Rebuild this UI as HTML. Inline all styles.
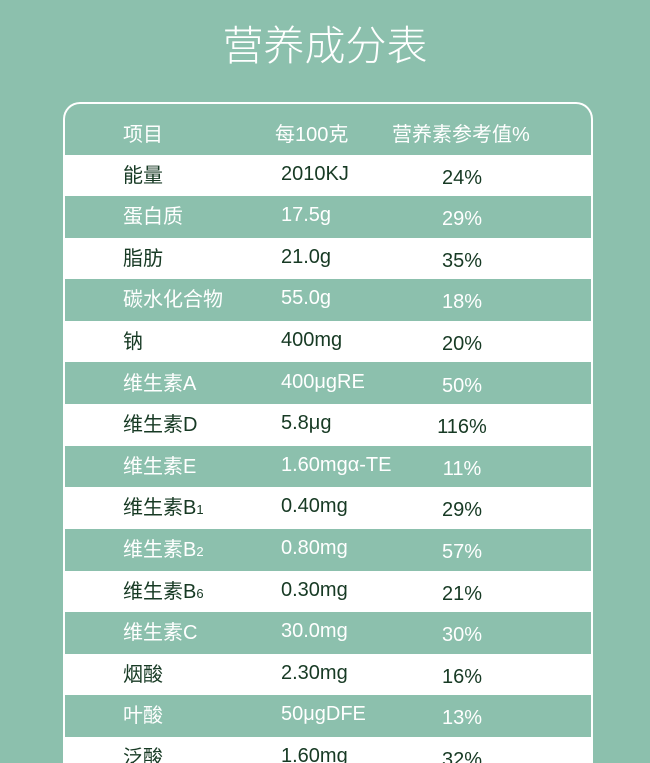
<!DOCTYPE html>
<html>
<head>
<meta charset="utf-8">
<style>
  html, body { margin:0; padding:0; width:650px; height:763px; overflow:hidden; }
  body {
    position:relative;
    background:#8cc0ad;
    font-family:"Liberation Sans","Noto Sans CJK SC",sans-serif;
  }
  .title {
    position:absolute; left:0; top:18px; width:650px; text-align:center;
    color:#fff; font-size:41px; line-height:56px; font-weight:300;
    font-family:"Liberation Sans","Noto Sans CJK SC",sans-serif;
  }
  .box {
    position:absolute; left:63px; top:102px; width:526px; height:659px;
    border:2px solid #fff; border-bottom:none;
    border-radius:17px 17px 0 0; overflow:hidden;
  }
  .hdr {
    position:absolute; left:0; top:0; width:526px; height:50px; color:#fff;
    font-size:20px;
  }
  .hdr span { position:absolute; top:19px; line-height:24px; white-space:nowrap; }
  .row {
    position:absolute; left:0; width:526px; height:41.6px; font-size:20px;
  }
  .row.w { background:#fff; color:#173a24; }
  .row.g { background:#8cc0ad; color:#fff; }
  .row span { position:absolute; white-space:nowrap; line-height:24px; }
  .c1 { left:58px; top:9px; }
  .c2 { left:216px; top:7px; }
  .c3 { left:347px; width:100px; text-align:center; top:11px; }
  .row span.s { position:static; font-size:13px; }
</style>
</head>
<body>
<div class="title">营养成分表</div>
<div class="box">
  <div class="hdr">
    <span style="left:58px;">项目</span>
    <span style="left:210px;">每100克</span>
    <span style="left:327px;">营养素参考值%</span>
  </div>

  <div class="row w" style="top:50.5px;"><span class="c1">能量</span><span class="c2">2010KJ</span><span class="c3">24%</span></div>
  <div class="row g" style="top:92.1px;"><span class="c1">蛋白质</span><span class="c2">17.5g</span><span class="c3">29%</span></div>
  <div class="row w" style="top:133.7px;"><span class="c1">脂肪</span><span class="c2">21.0g</span><span class="c3">35%</span></div>
  <div class="row g" style="top:175.3px;"><span class="c1">碳水化合物</span><span class="c2">55.0g</span><span class="c3">18%</span></div>
  <div class="row w" style="top:216.9px;"><span class="c1">钠</span><span class="c2">400mg</span><span class="c3">20%</span></div>
  <div class="row g" style="top:258.5px;"><span class="c1">维生素A</span><span class="c2">400μgRE</span><span class="c3">50%</span></div>
  <div class="row w" style="top:300.1px;"><span class="c1">维生素D</span><span class="c2">5.8μg</span><span class="c3">116%</span></div>
  <div class="row g" style="top:341.7px;"><span class="c1">维生素E</span><span class="c2">1.60mgα-TE</span><span class="c3">11%</span></div>
  <div class="row w" style="top:383.3px;"><span class="c1">维生素B<span class="s">1</span></span><span class="c2">0.40mg</span><span class="c3">29%</span></div>
  <div class="row g" style="top:424.9px;"><span class="c1">维生素B<span class="s">2</span></span><span class="c2">0.80mg</span><span class="c3">57%</span></div>
  <div class="row w" style="top:466.5px;"><span class="c1">维生素B<span class="s">6</span></span><span class="c2">0.30mg</span><span class="c3">21%</span></div>
  <div class="row g" style="top:508.1px;"><span class="c1">维生素C</span><span class="c2">30.0mg</span><span class="c3">30%</span></div>
  <div class="row w" style="top:549.7px;"><span class="c1">烟酸</span><span class="c2">2.30mg</span><span class="c3">16%</span></div>
  <div class="row g" style="top:591.3px;"><span class="c1">叶酸</span><span class="c2">50μgDFE</span><span class="c3">13%</span></div>
  <div class="row w" style="top:632.9px;"><span class="c1">泛酸</span><span class="c2">1.60mg</span><span class="c3">32%</span></div>
</div>
</body>
</html>
